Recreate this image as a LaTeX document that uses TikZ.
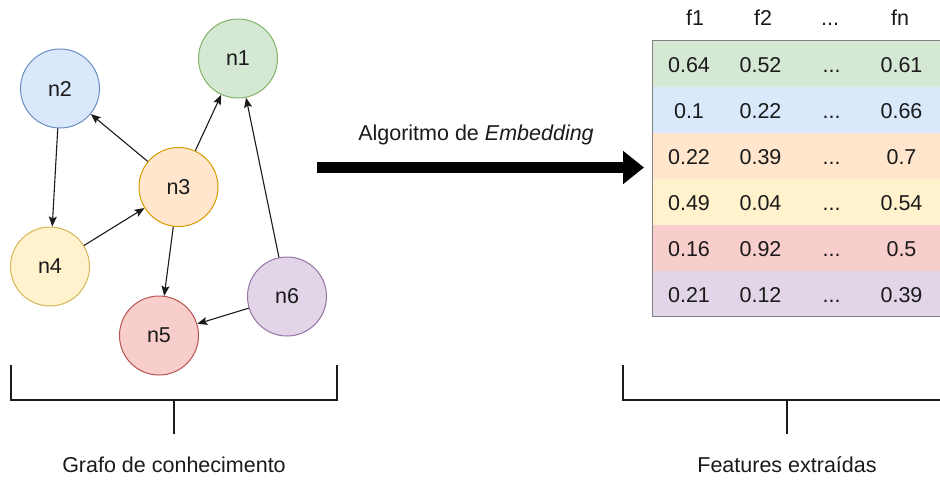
\documentclass[tikz,border=0pt]{standalone}
\usepackage{fontspec}
\setmainfont{Liberation Sans}
\usepackage{tikz}
\usetikzlibrary{positioning,arrows.meta,calc}
\definecolor{kgGreen}{HTML}{D5E8D4}
\definecolor{kgGreenLine}{HTML}{82B366}
\definecolor{kgBlue}{HTML}{DAE8FC}
\definecolor{kgBlueLine}{HTML}{6C8EBF}
\definecolor{kgOrange}{HTML}{FFE6CC}
\definecolor{kgOrangeLine}{HTML}{D79B00}
\definecolor{kgYellow}{HTML}{FFF2CC}
\definecolor{kgYellowLine}{HTML}{D6B656}
\definecolor{kgRed}{HTML}{F8CECC}
\definecolor{kgRedLine}{HTML}{B85450}
\definecolor{kgPurple}{HTML}{E1D5E7}
\definecolor{kgPurpleLine}{HTML}{9673A6}
\definecolor{kgInk}{HTML}{1A1A1A}

\begin{document}
\begin{tikzpicture}[x=1pt,y=-1pt,
      font=\fontsize{21.5}{25}\selectfont,text=kgInk,
      entity/.style={circle,draw,line width=1pt,minimum size=79pt,inner sep=0pt},
      link/.style={-{Stealth[length=10pt,width=8pt,inset=2pt]},line width=1.1pt,draw=kgInk},
      rowbox/.style={draw=none,minimum width=287pt,minimum height=46pt,inner sep=0pt},
      cell/.style={inner sep=0pt,text height=15pt,text depth=0pt},
      brace/.style={line width=2pt,draw=kgInk}]
    \useasboundingbox (0,0) rectangle (940,480);
    % graph
    \node[entity,fill=kgGreen,draw=kgGreenLine] (n1) at (238,58.5) {n1};
    \node[entity,fill=kgBlue,draw=kgBlueLine] (n2) at (60,88.5) {n2};
    \node[entity,fill=kgOrange,draw=kgOrangeLine] (n3) at (178.5,187) {n3};
    \node[entity,fill=kgYellow,draw=kgYellowLine] (n4) at (50,266.5) {n4};
    \node[entity,fill=kgRed,draw=kgRedLine] (n5) at (159,335.5) {n5};
    \node[entity,fill=kgPurple,draw=kgPurpleLine] (n6) at (287,296.5) {n6};
    \draw[link] (n3) -- (n2);
    \draw[link] (n3) -- (n1);
    \draw[link] (n2) -- (n4);
    \draw[link] (n4) -- (n3);
    \draw[link] (n3) -- (n5);
    \draw[link] (n6) -- (n5);
    \draw[link] (n6) -- (n1);
    % embedding arrow
    \coordinate (embStart) at (317,167.5);
    \coordinate (embEnd) at (644,167.5);
    \draw[line width=11pt,draw=black,-{Triangle[length=21pt,width=32pt]}] (embStart) -- (embEnd);
    \node (embLabel) at (476,135) {Algoritmo de \emph{Embedding}};
    % feature table
    \node[cell] (h1) at (695,17.5) {f1};
    \node[cell] (h2) at (763,17.5) {f2};
    \node[cell] (h3) at (830,17.5) {...};
    \node[cell] (h4) at (900,17.5) {fn};
    \foreach \i/\clr/\a/\b/\d in {1/kgGreen/0.64/0.52/0.61,2/kgBlue/0.1/0.22/0.66,
        3/kgOrange/0.22/0.39/0.7,4/kgYellow/0.49/0.04/0.54,
        5/kgRed/0.16/0.92/0.5,6/kgPurple/0.21/0.12/0.39}{
      \node[rowbox,fill=\clr] (r\i) at (796.5,17.5+46*\i) {};
      \node[cell] (c\i a) at (689,18.5+46*\i) {\a};
      \node[cell] (c\i b) at (760.5,18.5+46*\i) {\b};
      \node[cell] (c\i c) at (831.5,18.5+46*\i) {...};
      \node[cell] (c\i d) at (901.5,18.5+46*\i) {\d};
    }
    \draw[line width=1pt,draw=black!50] (r1.north east) -- (r1.north west) -- (r6.south west) -- (r6.south east);
    % brackets
    \draw[brace] (11,365) -- (11,400) -- (337,400) -- (337,365);
    \draw[brace] (174,400) -- (174,434);
    \node (graphLabel) at (174,465) {Grafo de conhecimento};
    \draw[brace] (623,365) -- (623,400) -- (941,400);
    \draw[brace] (787,400) -- (787,434);
    \node (featLabel) at (787,465) {Features extraídas};
  \end{tikzpicture}
\end{document}
